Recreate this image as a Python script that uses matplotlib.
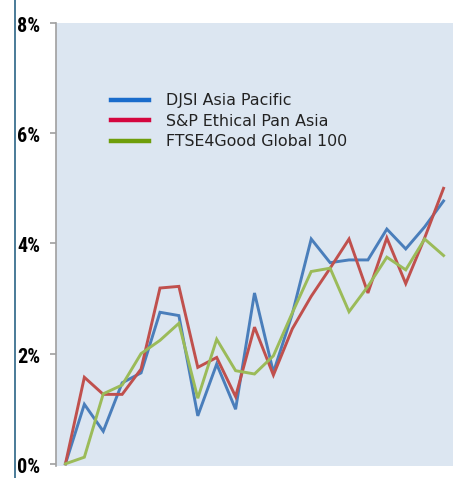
import matplotlib
matplotlib.use("Agg")
import matplotlib.pyplot as plt
from matplotlib.lines import Line2D
from matplotlib import font_manager
import matplotlib.transforms as mtransforms
import numpy as np

series_names = ["DJSI Asia Pacific", "S&P Ethical Pan Asia", "FTSE4Good Global 100"]
djsi = [0.0, 1.08, 0.59, 1.47, 1.65, 2.75, 2.69, 0.87, 1.81, 0.99, 3.10,
        1.66, 2.72, 4.08, 3.65, 3.70, 3.70, 4.26, 3.90, 4.30, 4.77]
sp_ethical = [0.0, 1.57, 1.26, 1.26, 1.72, 3.19, 3.22, 1.75, 1.93, 1.22, 2.48,
              1.61, 2.45, 3.04, 3.55, 4.08, 3.10, 4.10, 3.27, 4.10, 5.00]
ftse = [0.0, 0.12, 1.27, 1.43, 2.00, 2.24, 2.55, 1.19, 2.26, 1.69, 1.63,
        1.96, 2.74, 3.49, 3.55, 2.76, 3.22, 3.75, 3.52, 4.08, 3.78]
y_ticks = [0, 2, 4, 6, 8]
y_tick_labels = ["0%", "2%", "4%", "6%", "8%"]

line_colors = ["#4A7EBB", "#C0504D", "#9BBB59"]
legend_colors = ["#1A6CCB", "#D4063E", "#6E9E0A"]

# pick a bold narrow/condensed family if one is installed
def _is_bold(f):
    w = f.weight
    try:
        return int(w) >= 600
    except (TypeError, ValueError):
        return str(w).lower() in ("bold", "heavy", "black", "demibold", "semibold", "extra bold")

cands = [f for f in font_manager.fontManager.ttflist
         if ("Narrow" in f.name or "Condensed" in f.name or
             str(f.stretch).lower() in ("condensed", "semi-condensed", "extra-condensed"))
         and _is_bold(f)]
pref = ["Liberation Sans Narrow", "DejaVu Sans Condensed", "Roboto Condensed",
        "Open Sans Condensed", "Noto Sans Condensed"]
cands.sort(key=lambda f: pref.index(f.name) if f.name in pref else 99)
if cands:
    tick_font = font_manager.FontProperties(fname=cands[0].fname, size=14.5)
else:
    tick_font = font_manager.FontProperties(family="Liberation Sans", weight="bold", size=12.5)

fig = plt.figure(figsize=(4.60, 4.78), dpi=100)
W, H = 460, 478
ax = fig.add_axes([56 / W, 1 - 466 / H, (453 - 56) / W, (466 - 23) / H])
ax.set_facecolor("#DCE6F1")

x = np.arange(len(djsi))
for vals, c in zip([djsi, sp_ethical, ftse], line_colors):
    ax.plot(x, vals, color=c, lw=2.1, solid_joinstyle="miter")

ax.set_xlim(-0.5, len(djsi) - 0.5)
ax.set_ylim(-0.04, 8.0)
ax.set_yticks(y_ticks)
ax.set_yticklabels(y_tick_labels, fontproperties=tick_font, color="black")
ax.set_xticks([])
for s in ["top", "right", "bottom"]:
    ax.spines[s].set_visible(False)
ax.spines["left"].set_color("#A0A0A0")
ax.spines["left"].set_linewidth(1.2)
ax.tick_params(axis="y", length=4, width=1.2, color="#A0A0A0", pad=7.5)
shift = mtransforms.ScaledTranslation(0, -1.5 / 100, fig.dpi_scale_trans)
for lab in ax.get_yticklabels():
    lab.set_transform(lab.get_transform() + shift)

handles = [Line2D([0], [0], color=c, lw=3.2) for c in legend_colors]
leg = ax.legend(handles, series_names, loc="upper left",
                bbox_to_anchor=(49 / 397, 1 - 64 / 443), frameon=False,
                handlelength=2.35, handletextpad=1.1, labelspacing=0.34,
                borderaxespad=0,
                prop={"family": "DejaVu Sans", "size": 11.4})
for t in leg.get_texts():
    t.set_color("#222222")

fig.add_artist(Line2D([15.5 / W, 15.5 / W], [0, 1], color="#3C7190", lw=1.3,
                      transform=fig.transFigure))

fig.savefig("out.png", dpi=100, facecolor="white")
